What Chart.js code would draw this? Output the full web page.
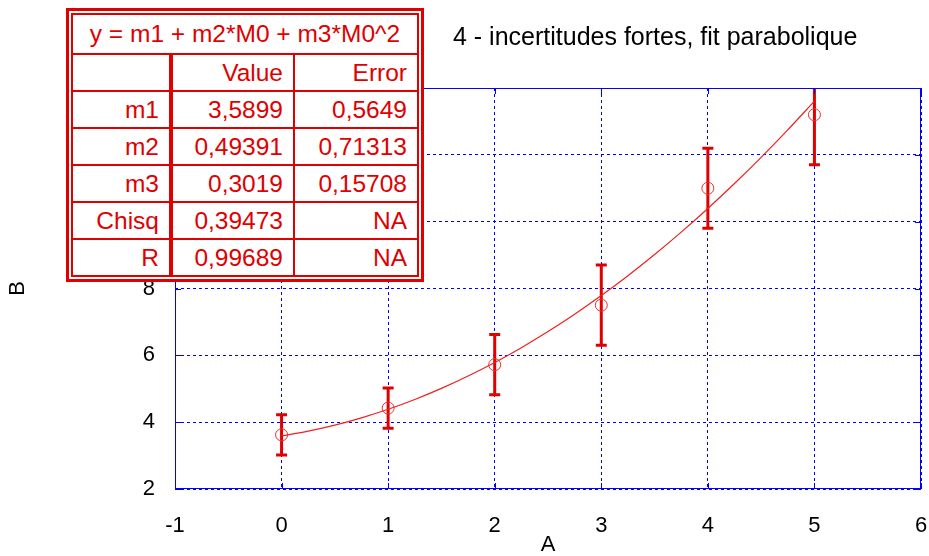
<!DOCTYPE html>
<html>
<head>
<meta charset="utf-8">
<script src="https://cdn.jsdelivr.net/npm/chart.js@4.4.0/dist/chart.umd.min.js"></script>
<style>
  body { margin: 0; background: #fff; }
  #wrap { position: relative; width: 929px; height: 556px; font-family: "Liberation Sans", Arial, sans-serif; }
  #title { position: absolute; left: 453px; top: 24px; font-size: 25px; line-height: 25px; color: #000; white-space: nowrap; }
  #fitbox { position: absolute; left: 66px; top: 8px; width: 348px; height: 264px; border: 3px solid #e00000; padding: 2px; background: #fff; }
  #fitbox table { width: 100%; height: 100%; border-collapse: collapse; table-layout: fixed; border: 2px solid #e00000; color: #e00000; font-size: 24.5px; }
  #fitbox td { border: 2px solid #e00000; text-align: right; padding: 0 10px 0 0; white-space: nowrap; line-height: 24px; }
  #fitbox td.name { border-right-width: 4px; }
  #fitbox td.eq { text-align: center; padding: 0; }
</style>
</head>
<body>
<div id="wrap">
  <canvas id="chart" width="929" height="556"></canvas>
  <div id="title">4 - incertitudes fortes, fit parabolique</div>
  <div id="fitbox"><table id="fit"></table></div>
</div>
<script>
// measured points
const aValues = [0, 1, 2, 3, 4, 5];
const bValues = [3.62, 4.42, 5.72, 7.5, 11.0, 13.2];
const bErrors = [0.6, 0.6, 0.9, 1.2, 1.2, 1.5];

// fitted parabola, sampled
const fitA = [0, 0.25, 0.5, 0.75, 1, 1.25, 1.5, 1.75, 2, 2.25, 2.5, 2.75, 3, 3.25, 3.5, 3.75, 4, 4.25, 4.5, 4.75, 5];
const fitB = [3.590, 3.732, 3.912, 4.130, 4.386, 4.679, 5.010, 5.379, 5.785, 6.230, 6.712, 7.231, 7.789, 8.384, 9.017, 9.688, 10.396, 11.142, 11.926, 12.748, 13.607];

// fit table
const fitEquation = "y = m1 + m2*M0 + m3*M0^2";
const fitHeader = ["", "Value", "Error"];
const paramNames = ["m1", "m2", "m3", "Chisq", "R"];
const paramValues = ["3,5899", "0,49391", "0,3019", "0,39473", "0,99689"];
const paramErrors = ["0,5649", "0,71313", "0,15708", "NA", "NA"];

const RED = "#e00000";
const BLUE = "#0000ff";
const FONT = "'Liberation Sans', Arial, sans-serif";

// build the table
const tbl = document.getElementById("fit");
let html = '<colgroup><col style="width:99px"><col style="width:123px"><col></colgroup>';
html += '<tr style="height:40px"><td class="eq" colspan="3">' + fitEquation + '</td></tr>';
html += '<tr><td class="name">' + fitHeader[0] + '</td><td>' + fitHeader[1] + '</td><td>' + fitHeader[2] + '</td></tr>';
paramNames.forEach((n, i) => {
    html += '<tr><td class="name">' + n + '</td><td>' + paramValues[i] + '</td><td>' + paramErrors[i] + '</td></tr>';
});
tbl.innerHTML = html;

// error bars + frame with inner ticks
const errorBars = {
    id: "errorBars",
    beforeDatasetsDraw(chart) {
        const {ctx, chartArea, scales: {x, y}} = chart;
        ctx.save();
        ctx.beginPath();
        ctx.rect(chartArea.left, chartArea.top, chartArea.right - chartArea.left, chartArea.bottom - chartArea.top);
        ctx.clip();
        ctx.strokeStyle = RED;
        ctx.lineWidth = 3;
        aValues.forEach((a, i) => {
            const px = x.getPixelForValue(a);
            const top = y.getPixelForValue(bValues[i] + bErrors[i]);
            const bot = y.getPixelForValue(bValues[i] - bErrors[i]);
            ctx.beginPath();
            ctx.moveTo(px, top); ctx.lineTo(px, bot);
            ctx.moveTo(px - 5.5, top); ctx.lineTo(px + 5.5, top);
            ctx.moveTo(px - 5.5, bot); ctx.lineTo(px + 5.5, bot);
            ctx.stroke();
        });
        ctx.restore();
    },
    afterDraw(chart) {
        const {ctx, chartArea: c, scales: {x, y}} = chart;
        ctx.save();
        ctx.strokeStyle = BLUE;
        ctx.lineWidth = 1;
        ctx.setLineDash([]);
        ctx.strokeRect(c.left + 0.5, c.top + 0.5, c.right - c.left - 1, c.bottom - c.top - 1);
        ctx.beginPath();
        x.ticks.forEach(t => {
            const px = Math.round(x.getPixelForValue(t.value)) + 0.5;
            ctx.moveTo(px, c.top); ctx.lineTo(px, c.top + 6);
            ctx.moveTo(px, c.bottom); ctx.lineTo(px, c.bottom - 6);
        });
        y.ticks.forEach(t => {
            const py = Math.round(y.getPixelForValue(t.value)) + 0.5;
            ctx.moveTo(c.left, py); ctx.lineTo(c.left + 6, py);
            ctx.moveTo(c.right, py); ctx.lineTo(c.right - 6, py);
        });
        ctx.stroke();
        ctx.restore();
    }
};

new Chart(document.getElementById("chart"), {
    type: "scatter",
    data: {
        datasets: [
            {
                label: "fit",
                data: fitA.map((a, i) => ({x: a, y: fitB[i]})),
                showLine: true,
                borderColor: "#ee2020",
                borderWidth: 1.2,
                pointRadius: 0,
                cubicInterpolationMode: "monotone",
                order: 2
            },
            {
                label: "B",
                data: aValues.map((a, i) => ({x: a, y: bValues[i]})),
                showLine: false,
                pointStyle: "circle",
                pointRadius: 6,
                borderColor: "#e83030",
                backgroundColor: "rgba(0,0,0,0)",
                borderWidth: 1,
                order: 1
            }
        ]
    },
    options: {
        responsive: false,
        animation: false,
        events: [],
        layout: { padding: { top: 88, right: 8, left: 0, bottom: 0 } },
        plugins: { legend: { display: false }, tooltip: { enabled: false } },
        scales: {
            x: {
                type: "linear",
                min: -1, max: 6,
                afterFit: s => { s.height = 67; s.paddingLeft = 0; s.paddingRight = 0; },
                ticks: { stepSize: 1, color: "#000", padding: 24, font: { family: FONT, size: 22 } },
                grid: { color: BLUE, lineWidth: 1, drawTicks: false },
                border: { display: false, dash: [3, 3] },
                title: { display: true, text: "A", color: "#000", font: { family: FONT, size: 22, lineHeight: 1.0 }, padding: { top: 2, bottom: 0 } }
            },
            y: {
                type: "linear",
                min: 2, max: 14,
                afterFit: s => { s.width = 175; s.paddingTop = 0; s.paddingBottom = 0; },
                ticks: { stepSize: 2, color: "#000", padding: 20, font: { family: FONT, size: 22 } },
                grid: { color: BLUE, lineWidth: 1, drawTicks: false },
                border: { display: false, dash: [3, 3] },
                title: { display: true, text: "B", color: "#000", font: { family: FONT, size: 22, lineHeight: 1.1 }, padding: { top: 6, bottom: 0 } }
            }
        }
    },
    plugins: [errorBars]
});
</script>
</body>
</html>
